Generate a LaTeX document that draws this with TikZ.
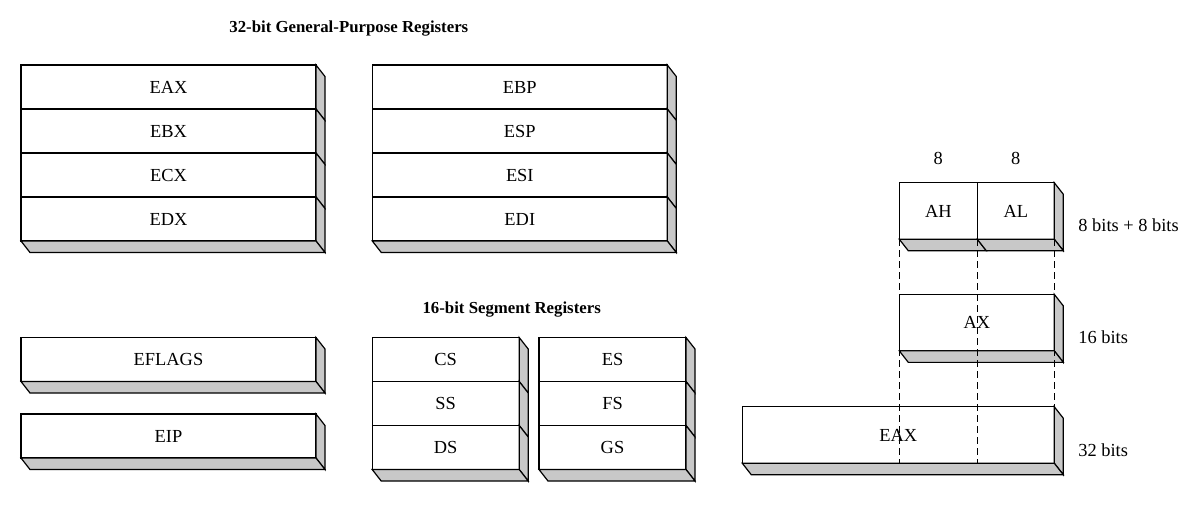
\documentclass[tikz,border=0pt]{standalone}
\usepackage{fontspec}
\setmainfont{Liberation Serif}
\usetikzlibrary{positioning}
\definecolor{side}{RGB}{200,200,200}
\tikzstyle{reg} = [rectangle, draw=black, line width=0.6pt, fill=white, minimum height=22pt, inner sep=0pt, outer sep=0pt, font=\fontsize{9.2}{11}\selectfont]
\tikzstyle{longreg} = [reg, minimum width=147.5pt]
\tikzstyle{segreg} = [reg, minimum width=73.5pt]
\tikzstyle{partreg} = [reg, minimum height=28.25pt]
\tikzstyle{face} = [draw=black, line width=0.6pt, fill=side]
\tikzstyle{split} = [line width=0.6pt, dash pattern=on 3.5pt off 2pt]
\tikzstyle{title} = [font=\fontsize{8.4}{10}\selectfont\bfseries, inner sep=0pt, anchor=base]
\tikzstyle{bits} = [font=\fontsize{9.2}{11}\selectfont, inner sep=0pt]
\begin{document}
\begin{tikzpicture}[x=0.5pt, y=-0.5pt, node distance=0pt]
	\useasboundingbox (0,0) rectangle (1194,505);
	
	% Titles
	\node (gptitle) [title] at (348.8,32.3) {32-bit General-Purpose Registers};
	\node (segtitle) [title] at (511.7,313.8) {16-bit Segment Registers};
	
	% General-purpose registers
	\node (eax) [longreg] at (168.5,87) {EAX};
	\node (ebx) [longreg, below=of eax] {EBX};
	\node (ecx) [longreg, below=of ebx] {ECX};
	\node (edx) [longreg, below=of ecx] {EDX};
	\node (ebp) [longreg] at (519.8,87) {EBP};
	\node (esp) [longreg, below=of ebp] {ESP};
	\node (esi) [longreg, below=of esp] {ESI};
	\node (edi) [longreg, below=of esi] {EDI};
	
	% Flags and instruction pointer
	\node (eflags) [longreg] at (168.5,359.5) {EFLAGS};
	\node (eip) [longreg] at (168.5,436) {EIP};
	
	% Segment registers
	\node (cs) [segreg] at (445.7,359.5) {CS};
	\node (ss) [segreg, below=of cs] {SS};
	\node (ds) [segreg, below=of ss] {DS};
	\node (es) [segreg] at (612.5,359.5) {ES};
	\node (fs) [segreg, below=of es] {FS};
	\node (gs) [segreg, below=of fs] {GS};
	
	% Parts of EAX
	\node (ah) [partreg, minimum width=39pt] at (938.3,211) {AH};
	\node (al) [partreg, minimum width=38.5pt, right=of ah] {AL};
	\node (ax) [partreg, minimum width=77.5pt] at (976.8,322.6) {AX};
	\node (eaxw) [partreg, minimum width=156pt] at (898.3,435) {EAX};
	
	% Sides
	\foreach \n in {eax,ebx,ecx,edx,ebp,esp,esi,edi,eflags,eip,cs,ss,ds,es,fs,gs,al,ax,eaxw}
		\draw [face] (\n.north east) -- ++(9,11.5) -- ([shift={(9,11.5)}]\n.south east) -- (\n.south east) -- cycle;
	\foreach \n in {edx,edi,eflags,eip,ds,gs,ah,al,ax,eaxw}
		\draw [face] (\n.south west) -- ++(9,11.5) -- ([shift={(9,11.5)}]\n.south east) -- (\n.south east) -- cycle;
	
	% Dashed splits
	\draw [split] (ah.south west) -- (ah.south west |- eaxw.south);
	\draw [split] (ah.south east) -- (ah.south east |- eaxw.south);
	\draw [split] (al.south east) -- (eaxw.south east);
	
	% Sizes
	\node (hbits) [bits, above=8.75pt of ah] {8};
	\node (lbits) [bits, above=8.75pt of al] {8};
	\node (pairlbl) [bits, anchor=west] at (1078,225) {8 bits + 8 bits};
	\node (axlbl) [bits, anchor=west] at (1078,337) {16 bits};
	\node (eaxlbl) [bits, anchor=west] at (1078,450) {32 bits};
	
\end{tikzpicture}
\end{document}
